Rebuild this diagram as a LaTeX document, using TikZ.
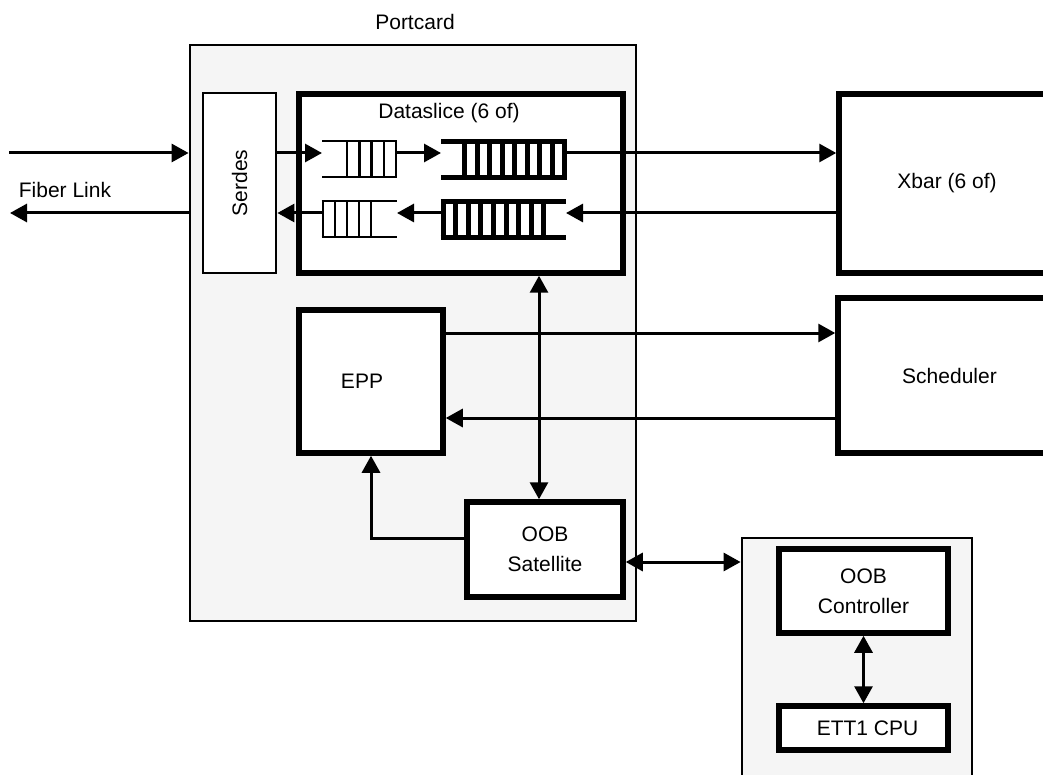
\documentclass[tikz,border=0pt]{standalone}
\usepackage{fontspec}
\setmainfont{Liberation Sans}
\usetikzlibrary{arrows.meta}
\definecolor{cardgray}{HTML}{F5F5F5}
\begin{document}
\begin{tikzpicture}[x=1pt,y=-1pt,
  every node/.style={font=\fontsize{21}{30}\selectfont},
  box/.style={draw, line width=2.8pt, fill=white, inner sep=0pt, align=center},
  thickbox/.style={box, line width=5.5pt},
  conn/.style={line width=3pt, -{Triangle[length=17pt,width=18pt]}},
  biconn/.style={line width=3pt, {Triangle[length=17pt,width=18pt]}-{Triangle[length=17pt,width=18pt]}},
  qthin/.style={line width=2.7pt},
  qthick/.style={line width=5pt},
]
\useasboundingbox (0,0) rectangle (1043,775);
\clip (0,0) rectangle (1043,775);

% row / column helpers
\coordinate (yA) at (0,153);
\coordinate (yB) at (0,213);
\coordinate (yC) at (0,333);
\coordinate (yD) at (0,418);
\coordinate (yE) at (0,538);
\coordinate (yF) at (0,562);
\coordinate (xV) at (539,0);

% containers
\node[box, fill=cardgray, minimum width=446pt, minimum height=576pt] (portcard) at (413,333) {};
\node (portlabel) at (415,22) {Portcard};
\node[box, fill=cardgray, minimum width=230pt, minimum height=262pt] (ext) at (857,669) {};

% blocks
\node[box, minimum width=73pt, minimum height=180pt] (serdes) at (239.5,183) {\rotatebox{90}{Serdes}};
\node[thickbox, minimum width=324pt, minimum height=179pt] (dataslice) at (461,183.5) {};
\node (dslabel) at (449,113) {Dataslice (6 of)};
\node[thickbox, minimum width=216pt, minimum height=179pt] (xbar) at (947,183.5) {Xbar (6 of)};
\node[thickbox, minimum width=223pt, minimum height=155pt] (sched) at (949.5,375.5) {Scheduler};
\node[thickbox, minimum width=144pt, minimum height=143pt] (epp) at (371,381.5) {EPP\hspace*{18pt}};
\node[thickbox, minimum width=156pt, minimum height=95pt] (oobsat) at (545,549.5) {OOB\\Satellite};
\node[thickbox, minimum width=169pt, minimum height=84pt] (oobctl) at (863.5,591) {OOB\\Controller};
\node[thickbox, minimum width=169pt, minimum height=44pt] (ett) at (863.5,728) {\hspace*{8pt}ETT1 CPU};

% queues
% upper small (q1)
\draw[qthin] (322,141) -- (397.3,141) (322,177) -- (397.3,177);
\foreach \x in {347,359.3,371.7,384,396} \draw[qthin] (\x,141) -- (\x,177);
% upper big (q2)
\draw[qthick] (441,142) -- (567,142) (441,178) -- (567,178);
\foreach \i in {0,...,8} \draw[qthick] (464.5+12.5*\i,142) -- (464.5+12.5*\i,178);
% lower small (q3)
\draw[qthin] (321.7,201) -- (397,201) (321.7,237) -- (397,237);
\foreach \x in {323,335,347,359,371} \draw[qthin] (\x,201) -- (\x,237);
% lower big (q4)
\draw[qthick] (440.5,202) -- (566,202) (440.5,238) -- (566,238);
\foreach \i in {0,...,8} \draw[qthick] (443+12.6*\i,202) -- (443+12.6*\i,238);

\coordinate (q1in) at (322,153);
\coordinate (q1out) at (397,153);
\coordinate (q2in) at (441,153);
\coordinate (q2out) at (567,153);
\coordinate (q4in) at (566,213);
\coordinate (q4out) at (440.5,213);
\coordinate (q3in) at (397,213);
\coordinate (q3out) at (321.7,213);

% fiber link
\coordinate (fin) at (9,153);
\coordinate (fout) at (10,213);
\draw[conn] (fin) -- (fin -| portcard.west);
\draw[conn] (yB -| portcard.west) -- (fout);
\node (fiberlabel) at (65,190) {Fiber Link};

% data path
\draw[conn] (yA -| serdes.east) -- (q1in);
\draw[conn] (q1out) -- (q2in);
\draw[conn] (q2out) -- (yA -| xbar.west);
\draw[conn] (yB -| xbar.west) -- (q4in);
\draw[conn] (q4out) -- (q3in);
\draw[conn] (q3out) -- (yB -| serdes.east);

% EPP <-> scheduler
\draw[conn] (yC -| epp.east) -- (yC -| sched.west);
\draw[conn] (yD -| sched.west) -- (yD -| epp.east);

% OOB links
\draw[biconn] (dataslice.south -| xV) -- (oobsat.north -| xV);
\draw[conn] (yE -| oobsat.west) -| (epp.south);
\draw[biconn] (yF -| oobsat.east) -- (yF -| ext.west);
\draw[biconn] (oobctl.south) -- (ett.north);
\end{tikzpicture}
\end{document}
